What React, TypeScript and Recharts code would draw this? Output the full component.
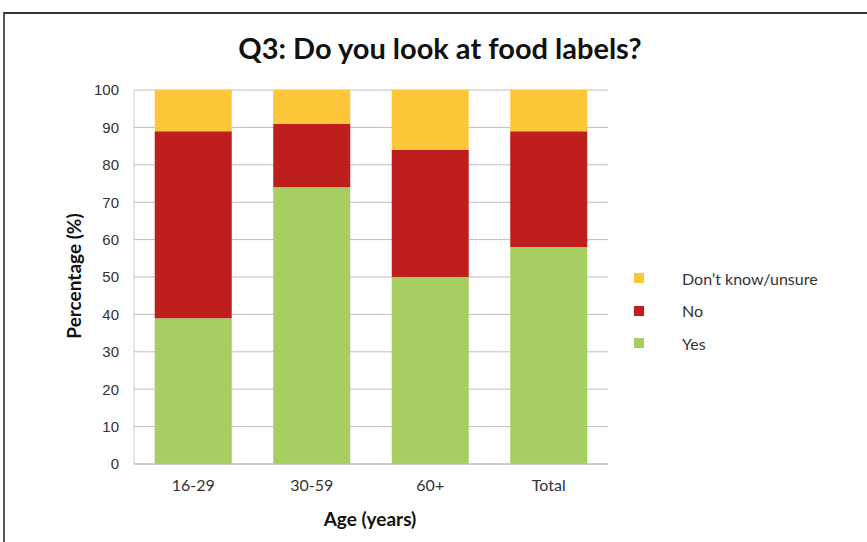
import { Bar, BarChart, CartesianGrid, XAxis, YAxis } from "recharts";

// Survey answers by age group (percent of respondents)
const ageGroups = ["16-29", "30-59", "60+", "Total"];
const yesValues = [39, 74, 50, 58];
const noValues = [50, 17, 34, 31];
const unsureValues = [11, 9, 16, 11];
const yTicks = [0, 10, 20, 30, 40, 50, 60, 70, 80, 90, 100];

const series = [
  { key: "yes", name: "Yes", color: "#a6ce61" },
  { key: "no", name: "No", color: "#be1f1c" },
  { key: "unsure", name: "Don\u2019t know/unsure", color: "#fec73a" },
];

const data = ageGroups.map((group, i) => ({
  group,
  yes: yesValues[i],
  no: noValues[i],
  unsure: unsureValues[i],
}));

const bodyFont = "Lato, 'Open Sans', sans-serif";

export default function App() {
  return (
    <div
      style={{
        position: "fixed",
        left: 0,
        top: 0,
        width: 867,
        height: 542,
        background: "#fff",
        overflow: "hidden",
        fontFamily: bodyFont,
      }}
    >
      <div
        style={{
          position: "absolute",
          left: 3,
          top: 12,
          width: 900,
          height: 600,
          borderTop: "2px solid #333",
          borderLeft: "2px solid #555",
        }}
      />
      <div
        style={{
          position: "absolute",
          left: 0,
          top: 30,
          width: 880,
          textAlign: "center",
          fontSize: 29,
          fontWeight: 700,
          color: "#111",
        }}
      >
        Q3: Do you look at food labels?
      </div>
      <div style={{ position: "absolute", left: 0, top: 0 }}>
        <BarChart
          width={867}
          height={542}
          data={data}
          margin={{ top: 90, right: 259, bottom: 48, left: 94 }}
          barCategoryGap="17.5%"
        >
          <CartesianGrid vertical={false} stroke="#bdbdbd" />
          <XAxis
            dataKey="group"
            height={30}
            stroke="#bdbdbd"
            tickLine={false}
            tickSize={6}
            tickMargin={10}
            tick={{ fill: "#333", fontSize: 16, fontFamily: bodyFont }}
          />
          <YAxis
            width={40}
            domain={[0, 100]}
            ticks={yTicks}
            interval={0}
            stroke="#d0d0d0"
            tickLine={false}
            tickSize={6}
            tickMargin={9}
            tick={{
              fill: "#333",
              fontSize: 15,
              fontFamily: "'Liberation Sans', Arial, sans-serif",
            }}
          />
          {series.map((s) => (
            <Bar
              key={s.key}
              dataKey={s.key}
              name={s.name}
              stackId="answers"
              fill={s.color}
              isAnimationActive={false}
            />
          ))}
        </BarChart>
      </div>
      <div
        style={{
          position: "absolute",
          left: 73,
          top: 276,
          transform: "translate(-50%, -50%) rotate(-90deg)",
          whiteSpace: "nowrap",
          fontSize: 19,
          fontWeight: 700,
          color: "#111",
        }}
      >
        Percentage (%)
      </div>
      <div
        style={{
          position: "absolute",
          left: 370,
          top: 518,
          transform: "translate(-50%, -50%)",
          whiteSpace: "nowrap",
          fontSize: 19,
          fontWeight: 700,
          color: "#111",
        }}
      >
        Age (years)
      </div>
      <div style={{ position: "absolute", left: 634, top: 262 }}>
        {[...series].reverse().map((s) => (
          <div
            key={s.key}
            style={{
              display: "flex",
              alignItems: "center",
              height: 32.5,
              fontSize: 16,
              color: "#333",
            }}
          >
            <span
              style={{
                display: "inline-block",
                width: 10,
                height: 10,
                background: s.color,
                marginRight: 38,
              }}
            />
            {s.name}
          </div>
        ))}
      </div>
    </div>
  );
}
